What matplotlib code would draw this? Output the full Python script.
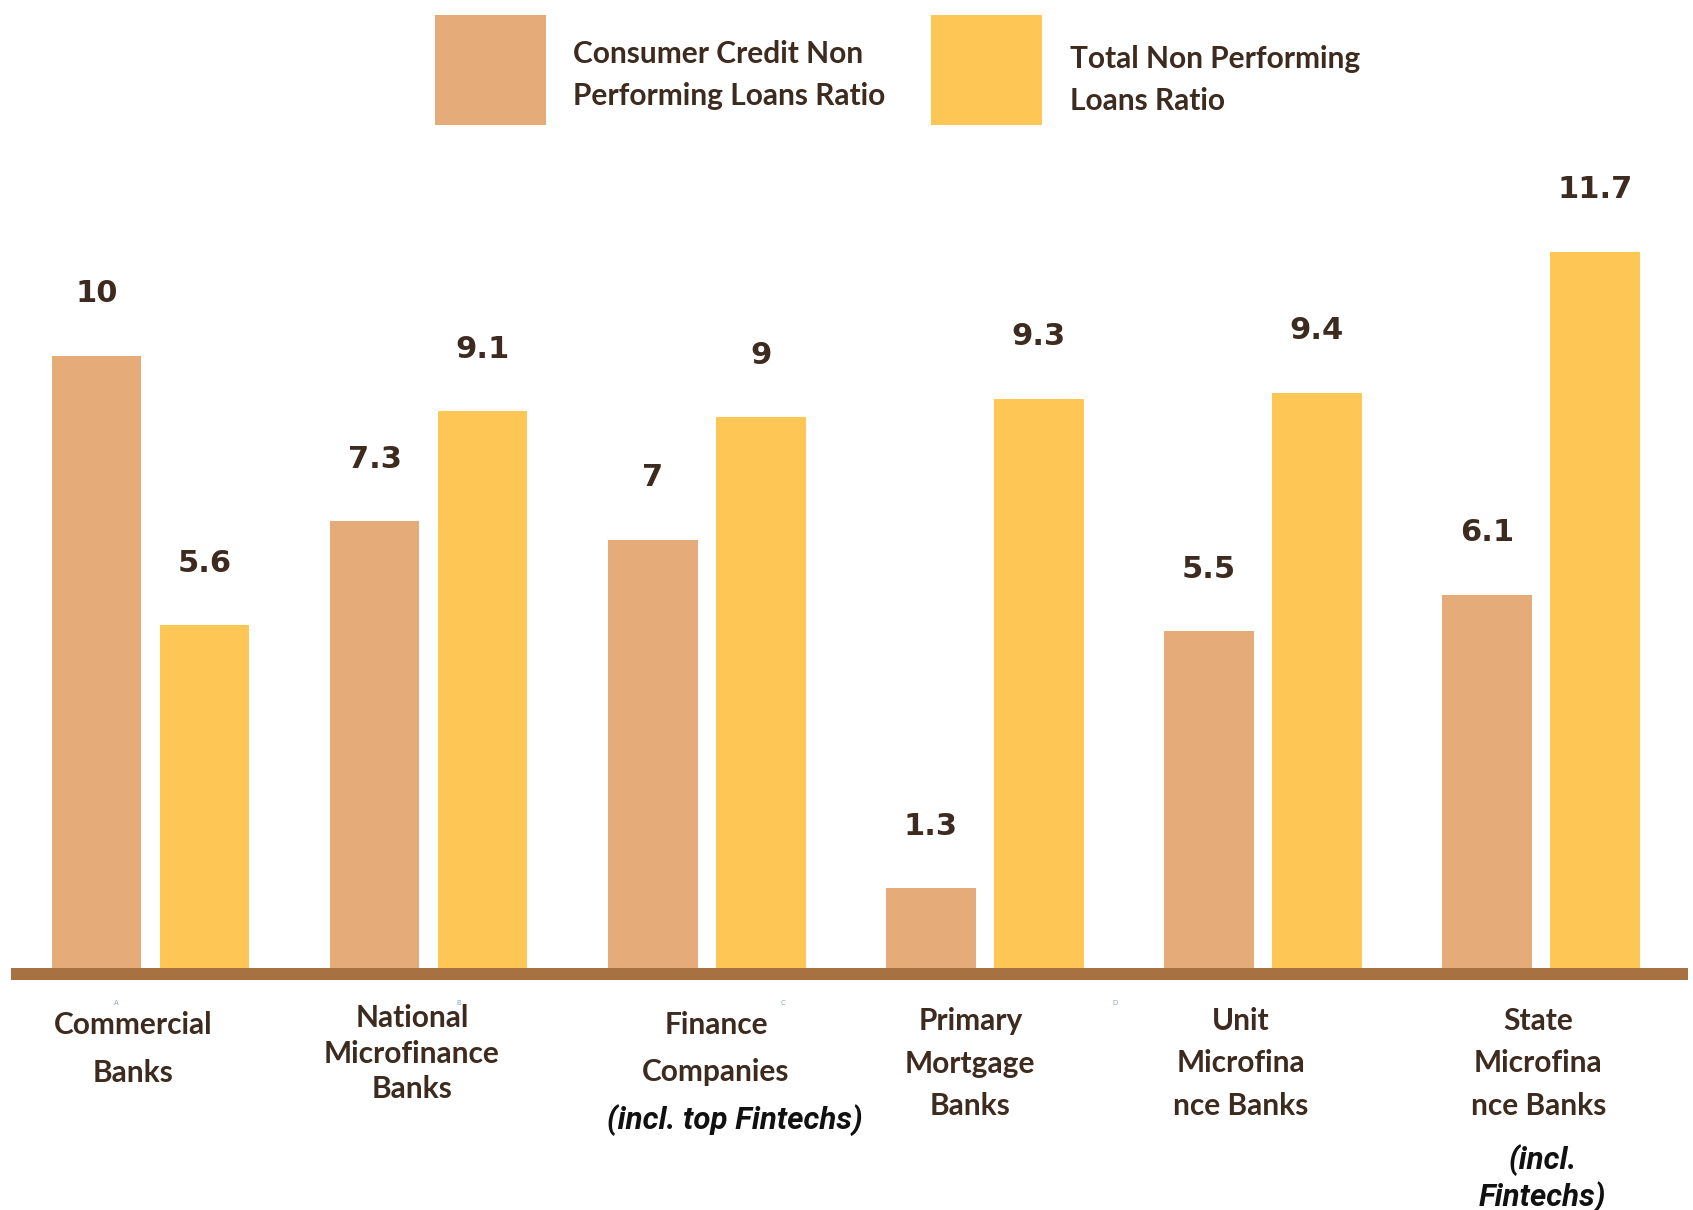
import matplotlib
matplotlib.use("Agg")
import matplotlib.pyplot as plt
from matplotlib.patches import Rectangle
import numpy as np

# ---- data -------------------------------------------------------------
categories = [
    "Commercial\nBanks",
    "National\nMicrofinance\nBanks",
    "Finance\nCompanies",
    "Primary\nMortgage\nBanks",
    "Unit\nMicrofina\nnce Banks",
    "State\nMicrofina\nnce Banks",
]
notes = ["", "", "(incl. top Fintechs)", "", "", "(incl.\nFintechs)"]
consumer_npl = [10, 7.3, 7, 1.3, 5.5, 6.1]
total_npl = [5.6, 9.1, 9, 9.3, 9.4, 11.7]
series_names = ["Consumer Credit Non\nPerforming Loans Ratio",
                "Total Non Performing\nLoans Ratio"]

# ---- style ------------------------------------------------------------
C_CONSUMER = "#E5AB78"
C_TOTAL = "#FEC655"
C_BASE = "#A87142"
C_TEXT = "#3D2B1F"
LABEL_FONT = ["Lato", "DejaVu Sans"]
VALUE_FONT = ["DejaVu Sans"]
NOTE_FONT = ["Roboto", "DejaVu Sans"]

W, H = 1693, 1210
DPI = 100
BASE_PX = 968        # baseline, pixels from top
UNIT_PX = 61.2       # pixels per ratio point
X0_PX = 150.6        # first group centre
PITCH_PX = 278.1     # distance between groups

fig = plt.figure(figsize=(W / DPI, H / DPI), dpi=DPI)
ax = fig.add_axes([0, 0, 1, 1])
ax.set_xlim(-X0_PX / PITCH_PX, (W - X0_PX) / PITCH_PX)
ax.set_ylim(-(H - BASE_PX) / UNIT_PX, BASE_PX / UNIT_PX)
ax.axis("off")


def py(p):
    """pixel row (from top) -> data y"""
    return (BASE_PX - p) / UNIT_PX


def px(p):
    """pixel column -> data x"""
    return (p - X0_PX) / PITCH_PX


x = np.arange(len(categories))
bw = 89.6 / PITCH_PX
off = 54 / PITCH_PX

b1 = ax.bar(x - off, consumer_npl, width=bw, color=C_CONSUMER, zorder=2)
b2 = ax.bar(x + off, total_npl, width=bw, color=C_TOTAL, zorder=2)

# value labels above bars
lab_gap = 62 / UNIT_PX
for bars, vals in ((b1, consumer_npl), (b2, total_npl)):
    for r, v in zip(bars, vals):
        ax.text(r.get_x() + r.get_width() / 2, v + lab_gap, f"{v:g}",
                ha="center", va="center", fontsize=22, fontweight="bold",
                family=VALUE_FONT, color=C_TEXT)

# thick baseline
ax.add_patch(Rectangle((px(11), py(980)), px(1688) - px(11),
                       12 / UNIT_PX, color=C_BASE, zorder=3, lw=0))

# category labels
first_line = [1025, 1018, 1025, 1021, 1021, 1021]
pitch = [47.5, 35.6, 47.5, 42.5, 42.5, 42.5]
dx = [-17.8, -16.7, 9.2, -14.6, -22, -2.7]
note_first = [None, None, 1120, None, None, 1160]
note_pitch = [0, 0, 0, 0, 0, 37]
note_dx = [0, 0, 28.5, 0, 0, 1.6]
for i, (cat, note) in enumerate(zip(categories, notes)):
    for j, line in enumerate(cat.split("\n")):
        ax.text(i + dx[i] / PITCH_PX, py(first_line[i] + j * pitch[i]), line,
                ha="center", va="center", fontsize=21.5, fontweight="bold",
                family=LABEL_FONT, color=C_TEXT)
    if note:
        for j, line in enumerate(note.split("\n")):
            ax.text(i + note_dx[i] / PITCH_PX,
                    py(note_first[i] + j * note_pitch[i]), line,
                    ha="center", va="center", fontsize=22.5,
                    fontweight="bold", fontstyle="italic",
                    family=NOTE_FONT, color="#111111")

# small faint markers under the baseline
for letter, mx in zip("ABCD", [116, 459, 783, 1115]):
    ax.text(px(mx), py(1003), letter, ha="center", va="center",
            fontsize=5, color="#8FA3B8")

# legend
for sx, tx, col, name, ty in [(435, 573, C_CONSUMER, series_names[0], 54),
                              (931, 1070, C_TOTAL, series_names[1], 59)]:
    fig.add_artist(Rectangle((sx / W, 1 - 125 / H), 111 / W, 110 / H,
                             transform=fig.transFigure, color=col, lw=0))
    for j, line in enumerate(name.split("\n")):
        fig.text(tx / W, 1 - (ty + j * 42) / H, line, ha="left",
                 va="center", fontsize=21.5, fontweight="bold",
                 family=LABEL_FONT, color=C_TEXT)

fig.savefig("out.png", dpi=DPI, facecolor="white")
